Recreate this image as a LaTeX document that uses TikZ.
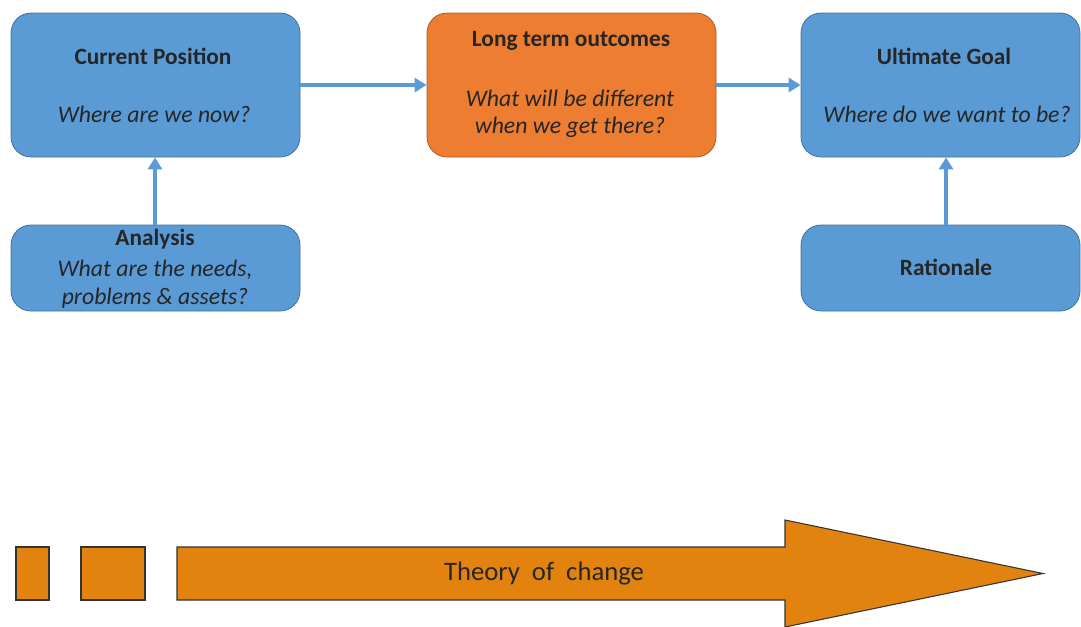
\documentclass[tikz,border=0pt]{standalone}
\usepackage{fontspec}
\setmainfont{Carlito}
\usetikzlibrary{arrows.meta}
\definecolor{boxblue}{HTML}{5B9BD5}
\definecolor{boxblueedge}{HTML}{41719C}
\definecolor{boxorange}{HTML}{ED7D31}
\definecolor{boxorangeedge}{HTML}{AE5A21}
\definecolor{bigorange}{HTML}{E3830F}
\tikzset{
  box/.style={rounded corners=15pt, line width=0.6pt, minimum width=216.75pt, inner sep=0pt},
  bluebox/.style={box, fill=boxblue, draw=boxblueedge},
  orangebox/.style={box, fill=boxorange, draw=boxorangeedge},
  title/.style={font=\fontsize{17.5}{20}\selectfont\bfseries, text=black!85, inner sep=0pt},
  question/.style={font=\fontsize{17.8}{20.6}\selectfont\itshape, text=black!85, align=center, inner sep=0pt},
  conn/.style={draw=boxblue, line width=3pt, -{Triangle[length=9pt,width=10.5pt]}},
  block/.style={fill=bigorange, draw=black!80, line width=0.8pt},
}
\begin{document}
\begin{tikzpicture}[x=0.75pt,y=-0.75pt]
\useasboundingbox (0,0) rectangle (1081,626);
% top row
\node[bluebox, minimum height=108pt] (cur) at (155.5,85) {};
\node[orangebox, minimum height=108pt] (lto) at (571.5,85) {};
\node[bluebox, minimum height=108pt, minimum width=209.25pt] (ult) at (940.5,85) {};
% bottom row
\node[bluebox, minimum height=64.5pt] (ana) at (155.5,268) {};
\node[bluebox, minimum height=64.5pt, minimum width=209.25pt] (rat) at (940.5,268) {};
% texts
\node[title] (curT) at (153,56) {Current Position};
\node[question] (curQ) at (154,114) {Where are we now?};
\node[title] (ltoT) at (571,41) {Long term outcomes};
\node[question] (ltoQ) at (570,114) {What will be different\\when we get there?};
\node[title] (ultT) at (944,56) {Ultimate Goal};
\node[question] (ultQ) at (947,114) {Where do we want to be?};
\node[title] (anaT) at (155,239) {Analysis};
\node[question] (anaQ) at (155,284) {What are the needs,\\problems \& assets?};
\node[title] (ratT) at (946,267) {Rationale};
% connectors
\draw[conn] (cur.east |- 0,85) -- (lto.west |- 0,85);
\draw[conn] (lto.east |- 0,85) -- (ult.west |- 0,85);
\draw[conn] (ana.north -| 155,0) -- (cur.south -| 155,0);
\draw[conn] (rat.north -| 946,0) -- (ult.south -| 946,0);
% theory of change arrow
\node[block, minimum width=24.75pt, minimum height=39.75pt, inner sep=0pt] (sq1) at (32.5,573.5) {};
\node[block, minimum width=48pt, minimum height=39.75pt, inner sep=0pt] (sq2) at (113,573.5) {};
\draw[block, line join=miter] (177,547) -- (785,547) -- (785,520) -- (1043,573.5) -- (785,627) -- (785,600) -- (177,600) -- cycle;
\node[font=\fontsize{20}{22}\selectfont, text=black!85] (toc) at (544,574) {Theory\ \ of\ \ change};
\end{tikzpicture}
\end{document}
